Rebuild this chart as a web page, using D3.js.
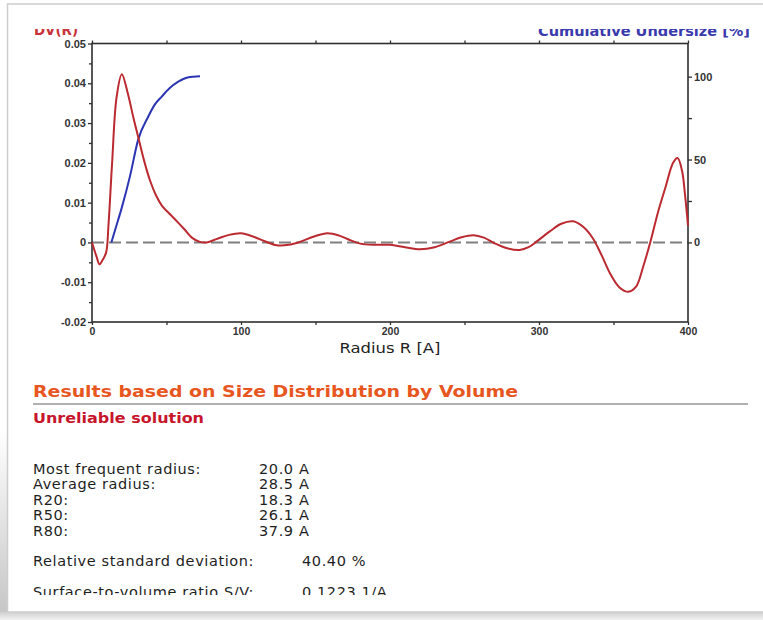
<!DOCTYPE html>
<html>
<head>
<meta charset="utf-8">
<script src="https://cdn.jsdelivr.net/npm/d3@7"></script>
<style>
  html, body { margin: 0; padding: 0; background: #fff; }
  svg { display: block; font-family: "DejaVu Sans", Verdana, sans-serif; }
</style>
</head>
<body>
<svg id="chart" width="763" height="620"></svg>
<script>
// Volume-weighted size distribution DV(R) versus radius R [A]
const dvRadius = [0, 3, 5, 7, 9.5, 11, 13.5, 16.5, 20, 24, 28, 31, 35, 39, 43, 47, 52, 57, 62, 67, 72, 77,
  84, 92, 100, 108, 116, 124, 132, 140, 149, 158, 166, 173, 180, 190, 200, 210, 220, 230, 240, 248, 256,
  263, 270, 278, 287, 293, 299, 307, 315, 323, 330, 336, 342, 348, 354, 360, 365, 370, 375, 380, 385,
  390, 393, 396, 398, 400];
const dvValue = [0, -0.0035, -0.0055, -0.0045, -0.0025, 0.004, 0.020, 0.0365, 0.0423, 0.0375, 0.031, 0.0265,
  0.0205, 0.0155, 0.0118, 0.0092, 0.0072, 0.0053, 0.0033, 0.0012, 0.0002, 0,
  0.0009, 0.0019, 0.0023, 0.0015, 0.0003, -0.0007, -0.0006, 0.0002, 0.0015, 0.0023, 0.0017, 0.0006,
  -0.0003, -0.0006, -0.0006, -0.0012, -0.0017, -0.0012, 0.0002, 0.0013, 0.0018,
  0.0012, -0.0002, -0.0014, -0.0019, -0.0012, 0.0004, 0.0027, 0.0047, 0.0053, 0.0038, 0.0011, -0.0032,
  -0.0080, -0.0113, -0.0124, -0.0112, -0.0060, 0.0005, 0.0078, 0.0140,
  0.0200, 0.0212, 0.0180, 0.0120, 0.0042];

// Cumulative undersize [%] versus radius R [A]
const cumRadius = [13, 16, 20, 25.5, 31, 37.8, 42, 46.8, 52, 57.9, 63, 68, 72.5];
const cumValue  = [0, 9, 21, 40, 62, 76, 83, 88, 93, 97, 99.2, 100, 100.3];

// Axis ticks
const xTicks = [0, 100, 200, 300, 400];
const xMinorTicks = [50, 150, 250, 350];
const leftTicks = [-0.02, -0.01, 0, 0.01, 0.02, 0.03, 0.04, 0.05];
const leftTickLabels = ["-0.02", "-0.01", "0", "0.01", "0.02", "0.03", "0.04", "0.05"];
const leftMinorTicks = [-0.015, -0.005, 0.005, 0.015, 0.025, 0.035, 0.045];
const rightTicks = [0, 50, 100];
const rightTickLabels = ["0", "50", "100"];
const rightMinorTicks = [25, 75];

// Axis titles and result text
const leftAxisTitle = "DV(R)";
const rightAxisTitle = "Cumulative Undersize [%]";
const xAxisTitle = "Radius R [A]";
const resultsTitle = "Results based on Size Distribution by Volume";
const warningText = "Unreliable solution";
const statLabels = ["Most frequent radius:", "Average radius:", "R20:", "R50:", "R80:"];
const statValues = ["20.0 A", "28.5 A", "18.3 A", "26.1 A", "37.9 A"];
const extraLabels = ["Relative standard deviation:", "Surface-to-volume ratio S/V:"];
const extraValues = ["40.40 %", "0.1223 1/A"];

const svg = d3.select("#chart");
const defs = svg.append("defs");

// panel shadows
const gLeft = defs.append("linearGradient").attr("id", "shadeLeft").attr("x1", 0).attr("y1", 0).attr("x2", 0).attr("y2", 1);
gLeft.append("stop").attr("offset", "0").attr("stop-color", "#ffffff");
gLeft.append("stop").attr("offset", "1").attr("stop-color", "#c4c4c4");
const gBot = defs.append("linearGradient").attr("id", "shadeBot").attr("x1", 0).attr("y1", 0).attr("x2", 0).attr("y2", 1);
gBot.append("stop").attr("offset", "0").attr("stop-color", "#cfcfcf");
gBot.append("stop").attr("offset", "1").attr("stop-color", "#f2f2f2");

svg.append("rect").attr("x", 0).attr("y", 0).attr("width", 763).attr("height", 620).attr("fill", "#fff");
svg.append("rect").attr("x", 0).attr("y", 430).attr("width", 8).attr("height", 190).attr("fill", "url(#shadeLeft)");
svg.append("rect").attr("x", 0).attr("y", 612).attr("width", 763).attr("height", 8).attr("fill", "url(#shadeBot)");
svg.append("rect").attr("x", 7.5).attr("y", 4).attr("width", 800).attr("height", 608)
  .attr("fill", "#fff").attr("stroke", "#cdcdcd").attr("stroke-width", 1.5);

defs.append("clipPath").attr("id", "panelClip")
  .append("rect").attr("x", 9).attr("y", 29).attr("width", 760).attr("height", 566);

const panel = svg.append("g").attr("clip-path", "url(#panelClip)");

// scales
const x = d3.scaleLinear().domain([0, 400]).range([92, 688]);
const yL = d3.scaleLinear().domain([-0.02, 0.05]).range([322, 43.5]);
const yR = d3.scaleLinear().domain([-48, 120]).range([322, 43.5]);

const axisColor = "#2f2f2f";
const styleAxis = size => g => {
  g.select(".domain").remove();
  g.selectAll("line").attr("stroke", axisColor).attr("stroke-width", 1.3);
  g.selectAll("text").attr("fill", "#333").attr("font-size", size).attr("font-weight", "bold");
};

// zero reference line
panel.append("line")
  .attr("x1", x(0)).attr("x2", x(400)).attr("y1", yL(0)).attr("y2", yL(0))
  .attr("stroke", "#808080").attr("stroke-width", 2).attr("stroke-dasharray", "12,5");

// axes
panel.append("g").attr("transform", `translate(${x(0)},0)`)
  .call(d3.axisLeft(yL).tickValues(leftTicks).tickSize(4).tickPadding(2)
    .tickFormat((d, i) => leftTickLabels[i]))
  .call(styleAxis(11));
panel.append("g").attr("transform", `translate(${x(0)},0)`)
  .call(d3.axisLeft(yL).tickValues(leftMinorTicks).tickSize(3).tickFormat(""))
  .call(styleAxis(11));

panel.append("g").attr("transform", `translate(0,${yL(-0.02)})`)
  .call(d3.axisBottom(x).tickValues(xTicks).tickSize(3).tickPadding(3)
    .tickFormat(d => String(d)))
  .call(styleAxis(10.5));
panel.append("g").attr("transform", `translate(0,${yL(-0.02)})`)
  .call(d3.axisBottom(x).tickValues(xMinorTicks).tickSize(3).tickFormat(""))
  .call(styleAxis(10.5));
panel.append("g").attr("transform", `translate(0,${yL(0.05)})`)
  .call(d3.axisTop(x).tickValues(xTicks.concat(xMinorTicks)).tickSize(3).tickFormat(""))
  .call(styleAxis(10.5));

panel.append("g").attr("transform", `translate(${x(400)},0)`)
  .call(d3.axisRight(yR).tickValues(rightTicks).tickSize(4).tickPadding(2)
    .tickFormat((d, i) => rightTickLabels[i]))
  .call(styleAxis(11));
panel.append("g").attr("transform", `translate(${x(400)},0)`)
  .call(d3.axisRight(yR).tickValues(rightMinorTicks).tickSize(4).tickFormat(""))
  .call(styleAxis(11));

// plot frame
panel.append("rect")
  .attr("x", x(0)).attr("y", yL(0.05))
  .attr("width", x(400) - x(0)).attr("height", yL(-0.02) - yL(0.05))
  .attr("fill", "none").attr("stroke", axisColor).attr("stroke-width", 1.6);

// curves
const dvPoints = dvRadius.map((r, i) => [r, dvValue[i]]);
const cumPoints = cumRadius.map((r, i) => [r, cumValue[i]]);

panel.append("path")
  .datum(cumPoints)
  .attr("fill", "none").attr("stroke", "#2b35b3").attr("stroke-width", 2)
  .attr("d", d3.line().x(d => x(d[0])).y(d => yR(d[1])).curve(d3.curveMonotoneX));

panel.append("path")
  .datum(dvPoints)
  .attr("fill", "none").attr("stroke", "#bb2a30").attr("stroke-width", 2)
  .attr("stroke-linejoin", "round")
  .attr("d", d3.line().x(d => x(d[0])).y(d => yL(d[1])).curve(d3.curveCatmullRom.alpha(0.5)));

// axis titles
panel.append("text").attr("x", 34).attr("y", 34.5)
  .attr("fill", "#c8333a").attr("font-size", 13.5).attr("font-weight", "bold")
  .attr("textLength", 44).attr("lengthAdjust", "spacingAndGlyphs")
  .text(leftAxisTitle);
panel.append("text").attr("x", 538).attr("y", 35.5)
  .attr("fill", "#3a3aae").attr("font-size", 13.5).attr("font-weight", "bold")
  .attr("textLength", 212).attr("lengthAdjust", "spacingAndGlyphs")
  .text(rightAxisTitle);
panel.append("text").attr("x", (x(0) + x(400)) / 2).attr("y", 353)
  .attr("text-anchor", "middle").attr("fill", "#222").attr("font-size", 13.5)
  .attr("textLength", 101).attr("lengthAdjust", "spacingAndGlyphs")
  .text(xAxisTitle);

// results block
panel.append("text").attr("x", 33).attr("y", 397)
  .attr("fill", "#e8561f").attr("font-size", 16).attr("font-weight", "bold")
  .attr("textLength", 485).attr("lengthAdjust", "spacingAndGlyphs")
  .text(resultsTitle);
panel.append("line").attr("x1", 33).attr("x2", 748).attr("y1", 404).attr("y2", 404)
  .attr("stroke", "#b0b0b0").attr("stroke-width", 2);
panel.append("text").attr("x", 33).attr("y", 423)
  .attr("fill", "#c7152c").attr("font-size", 13.5).attr("font-weight", "bold")
  .attr("textLength", 171).attr("lengthAdjust", "spacingAndGlyphs")
  .text(warningText);

const rows = panel.append("g").attr("fill", "#1e1e1e").attr("font-size", 14.5)
  .attr("letter-spacing", "0.6px");
statLabels.forEach((lab, i) => {
  const yy = 473.5 + i * 15.6;
  rows.append("text").attr("x", 33).attr("y", yy).text(lab);
  rows.append("text").attr("x", 259).attr("y", yy).text(statValues[i]);
});
const extraY = [566, 597];
extraLabels.forEach((lab, i) => {
  rows.append("text").attr("x", 33).attr("y", extraY[i]).text(lab);
  rows.append("text").attr("x", 302).attr("y", extraY[i]).text(extraValues[i]);
});
</script>
</body>
</html>
